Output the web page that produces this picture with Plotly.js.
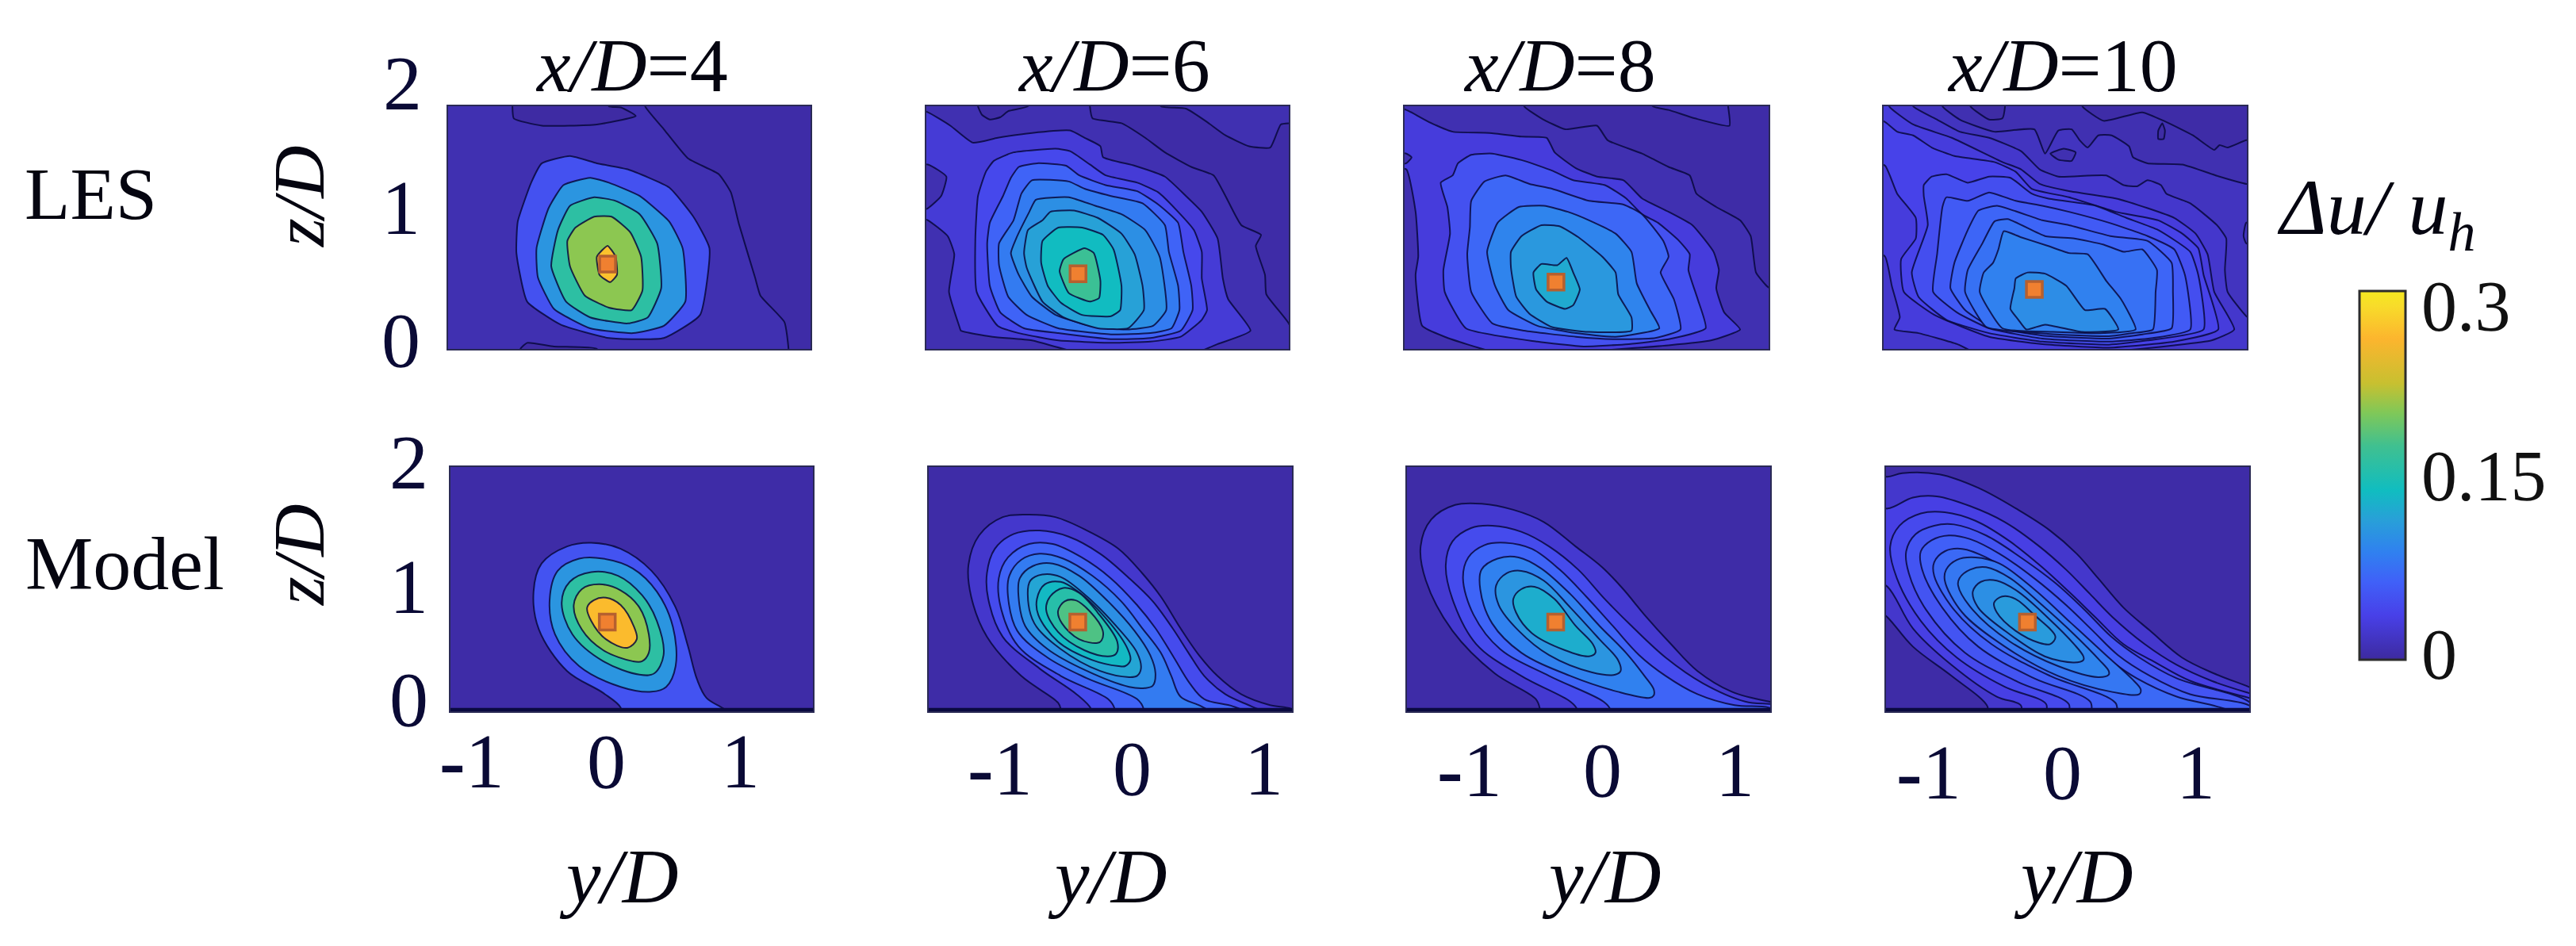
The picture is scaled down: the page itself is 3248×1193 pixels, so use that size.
<!DOCTYPE html>
<html><head><meta charset="utf-8">
<script src="https://cdn.plot.ly/plotly-3.0.1.min.js"></script>
<style>html,body{margin:0;padding:0;background:#fff}</style></head><body>
<div id="chart" style="width:3248px;height:1193px"></div>
<script>
// Wake deficit contours: each entry is [deficit band value, [y/D, z/D, y/D, z/D, ...]]
const les4 = [
 [0.009,[0.31,2.1,0.31,2.0,0.45,1.81,0.63,1.57,0.86,1.44,0.95,1.29,1.01,1.03,1.13,0.59,1.17,0.44,1.35,0.22,1.38,0,1.38,-0.1,-2,-0.1,-2,2.1]],
 [0.002,[-0.68,2.1,-0.68,2.0,-0.67,1.9,-0.46,1.84,-0.05,1.85,0.24,1.92,0.13,1.99,0.04,2.0,0.04,2.1]],
 [0.002,[-0.62,-0.1,-0.62,0,-0.57,0.05,-0.37,0.02,-0.05,0,-0.05,-0.1]],
 [0.05,[-0.25,1.59,-0.46,1.53,-0.54,1.37,-0.64,1.05,-0.65,0.79,-0.57,0.39,-0.32,0.2,0.04,0.09,0.45,0.09,0.72,0.28,0.79,0.83,0.67,1.09,0.49,1.33,0.18,1.48,-0.05,1.53]],
 [0.105,[-0.1,1.41,-0.3,1.35,-0.41,1.16,-0.5,0.83,-0.49,0.59,-0.37,0.33,-0.1,0.17,0.22,0.13,0.45,0.19,0.61,0.39,0.59,0.83,0.49,1.05,0.27,1.26,0.04,1.37]],
 [0.16,[-0.07,1.25,-0.25,1.18,-0.34,0.98,-0.39,0.68,-0.28,0.39,-0.1,0.26,0.18,0.21,0.33,0.26,0.43,0.5,0.4,0.87,0.27,1.11,0.09,1.22]],
 [0.205,[-0.07,1.09,0.06,1.09,0.2,0.96,0.28,0.76,0.29,0.48,0.21,0.32,0.04,0.34,-0.14,0.44,-0.25,0.68,-0.27,0.89,-0.21,1.0]],
 [0.27,[0.03,0.85,0.09,0.76,0.1,0.61,0.05,0.55,-0.03,0.61,-0.05,0.76]]
];
const les6 = [
 [0.009,[-0.3,2.1,-0.3,2.0,-0.28,1.9,-0.06,1.86,0.12,1.74,0.27,1.62,0.47,1.5,0.64,1.43,0.73,1.26,0.85,1.02,1.0,0.94,0.96,0.85,1.03,0.61,1.04,0.45,1.21,0.21,1.3,-0.1,-1.7,-0.1,-1.7,2.1]],
 [0.009,[0.24,2.1,0.24,2.0,0.43,1.98,0.59,1.87,0.73,1.76,0.91,1.67,1.07,1.66,1.15,1.85,1.22,1.86,1.3,1.86,1.3,2.1]],
 [0.003,[-1.15,2.1,-1.15,2.0,-1.12,1.93,-1.06,1.89,-0.98,1.91,-0.92,1.96,-0.77,2.0,-0.77,2.1]],
 [0.027,[-1.7,2.0,-1.53,1.95,-1.36,1.84,-1.19,1.7,-1.0,1.74,-0.74,1.78,-0.45,1.8,-0.34,1.74,-0.22,1.67,-0.2,1.58,0.04,1.51,0.27,1.42,0.43,1.26,0.55,1.13,0.67,0.91,0.71,0.58,0.75,0.41,0.92,0.15,0.67,0.04,0.53,-0.02,-0.42,-0.02,-0.74,0.07,-1.04,0.1,-1.28,0.15,-1.29,0.18,-1.37,0.47,-1.33,0.78,-1.38,0.93,-1.53,1.06,-1.7,1.12]],
 [0.009,[-1.7,1.5,-1.53,1.52,-1.39,1.42,-1.43,1.26,-1.53,1.16,-1.7,1.1]],
 [0.043,[-1.03,1.55,-0.88,1.62,-0.56,1.65,-0.45,1.63,-0.3,1.52,-0.18,1.43,0.06,1.37,0.22,1.29,0.37,1.13,0.49,0.98,0.55,0.8,0.55,0.58,0.59,0.32,0.55,0.24,0.39,0.1,0.16,0.06,-0.14,0.05,-0.54,0.07,-0.84,0.13,-1.0,0.19,-1.16,0.47,-1.17,0.91,-1.15,1.26,-1.09,1.46]],
 [0.065,[-0.84,1.5,-0.7,1.53,-0.48,1.51,-0.38,1.43,-0.18,1.35,0.06,1.3,0.22,1.19,0.37,1.04,0.41,0.8,0.47,0.52,0.48,0.32,0.39,0.15,0.16,0.09,-0.14,0.08,-0.54,0.13,-0.8,0.17,-0.98,0.3,-1.06,0.52,-1.08,0.87,-1.06,1.04,-0.96,1.26,-0.9,1.41]],
 [0.083,[-0.74,1.39,-0.46,1.38,-0.34,1.32,-0.14,1.26,0.1,1.2,0.27,1.02,0.3,0.8,0.37,0.52,0.38,0.32,0.32,0.17,0.16,0.13,-0.14,0.12,-0.54,0.17,-0.78,0.28,-0.92,0.43,-0.99,0.69,-0.99,0.87,-0.88,1.06,-0.82,1.28]],
 [0.1,[-0.71,1.23,-0.46,1.25,-0.26,1.18,-0.06,1.11,0.12,0.98,0.23,0.76,0.28,0.32,0.18,0.19,-0.02,0.16,-0.3,0.19,-0.56,0.28,-0.74,0.43,-0.84,0.61,-0.9,0.79,-0.86,0.91,-0.76,1.13]],
 [0.115,[-0.6,1.13,-0.42,1.14,-0.24,1.08,-0.06,0.95,0.04,0.78,0.1,0.52,0.11,0.32,-0.01,0.17,-0.24,0.17,-0.5,0.26,-0.66,0.39,-0.78,0.67,-0.8,0.79,-0.77,0.98,-0.66,1.06]],
 [0.137,[-0.54,1.0,-0.36,1.0,-0.2,0.94,-0.12,0.82,-0.06,0.52,-0.07,0.32,-0.14,0.27,-0.36,0.28,-0.52,0.38,-0.62,0.52,-0.67,0.71,-0.66,0.89]],
 [0.17,[-0.34,0.83,-0.27,0.79,-0.22,0.56,-0.23,0.42,-0.3,0.39,-0.46,0.46,-0.53,0.64,-0.5,0.74]]
];
const les8 = [
 [0.009,[-0.57,2.1,-0.57,2.0,-0.44,1.9,-0.26,1.81,-0.02,1.84,0.06,1.72,0.32,1.61,0.52,1.5,0.68,1.43,0.73,1.28,0.88,1.17,1.06,1.06,1.14,0.93,1.18,0.63,1.26,0.52,1.4,0.4,1.4,-0.1,-1.6,-0.1,-1.6,2.1]],
 [0.009,[0.4,2.1,0.4,2.0,0.52,1.97,0.72,1.9,0.98,1.84,0.97,2.0,0.97,2.1]],
 [0.03,[-1.6,2.0,-1.46,1.97,-1.29,1.87,-1.11,1.79,-0.83,1.78,-0.59,1.75,-0.4,1.74,-0.34,1.62,-0.18,1.49,-0.02,1.42,0.18,1.39,0.32,1.24,0.52,1.13,0.7,1.02,0.86,0.8,0.9,0.65,0.88,0.5,0.94,0.3,1.06,0.16,0.84,0.07,0.52,0.03,-0.12,-0.02,-0.81,-0.02,-1.17,0.1,-1.34,0.19,-1.39,0.61,-1.37,0.76,-1.39,1.13,-1.46,1.48,-1.6,1.5]],
 [0.009,[-1.6,1.61,-1.46,1.61,-1.42,1.58,-1.46,1.53,-1.6,1.53]],
 [0.05,[-1.2,1.37,-1.11,1.43,-1.07,1.53,-0.97,1.6,-0.81,1.61,-0.57,1.55,-0.36,1.47,-0.2,1.39,0.04,1.35,0.2,1.24,0.32,1.11,0.44,1.04,0.6,0.89,0.68,0.78,0.67,0.65,0.74,0.41,0.8,0.17,0.52,0.08,0.22,0.04,-0.12,0.02,-0.47,0.06,-1.01,0.17,-1.17,0.47,-1.18,0.65,-1.13,0.95,-1.15,1.17]],
 [0.068,[-0.97,1.22,-0.87,1.38,-0.71,1.43,-0.53,1.36,-0.36,1.32,-0.08,1.22,0.18,1.19,0.32,1.11,0.48,0.89,0.52,0.76,0.46,0.63,0.56,0.41,0.61,0.16,0.42,0.09,0.12,0.08,-0.18,0.1,-0.57,0.15,-0.81,0.21,-0.97,0.47,-1.0,0.78,-0.98,1.0]],
 [0.09,[-0.61,1.17,-0.42,1.18,-0.24,1.13,-0.08,1.06,0.12,0.95,0.24,0.8,0.28,0.54,0.38,0.32,0.45,0.17,0.12,0.1,-0.18,0.13,-0.47,0.19,-0.69,0.32,-0.79,0.52,-0.85,0.8,-0.77,1.04]],
 [0.107,[-0.44,1.02,-0.3,1.01,-0.16,0.92,0.02,0.76,0.12,0.63,0.14,0.45,0.24,0.26,0.24,0.15,-0.08,0.14,-0.36,0.18,-0.53,0.29,-0.63,0.43,-0.67,0.67,-0.67,0.8,-0.59,0.93]],
 [0.122,[-0.44,0.7,-0.32,0.69,-0.25,0.75,-0.2,0.63,-0.15,0.49,-0.2,0.36,-0.26,0.33,-0.4,0.39,-0.48,0.49,-0.5,0.63]]
];
const les10 = [
 [0.009,[0.17,2.1,0.17,2.0,0.33,1.88,0.62,1.95,0.8,1.87,1.0,1.76,1.16,1.64,1.2,1.68,1.26,1.66,1.4,1.72,1.5,1.72,1.5,-0.1,-1.5,-0.1,-1.5,2.1]],
 [0.003,[0.74,1.8,0.77,1.86,0.79,1.8,0.78,1.73,0.74,1.73]],
 [0.003,[-0.67,2.1,-0.67,2.0,-0.53,1.89,-0.43,1.9,-0.41,2.0,-0.41,2.1]],
 [0.016,[-0.88,2.1,-0.88,2.0,-0.75,1.89,-0.49,1.79,-0.19,1.81,-0.11,1.61,-0.01,1.8,0.09,1.81,0.15,1.72,0.21,1.66,0.29,1.76,0.39,1.76,0.52,1.67,0.55,1.58,0.66,1.53,0.92,1.52,1.2,1.42,1.4,1.36,1.5,1.36,1.5,-0.1,-1.5,-0.1,-1.5,2.1]],
 [0.009,[-0.07,1.61,0.03,1.65,0.12,1.62,0.09,1.55,-0.01,1.56]],
 [0.022,[-1.1,2.1,-1.1,2.0,-0.92,1.89,-0.75,1.79,-0.53,1.74,-0.29,1.63,-0.15,1.48,-0.01,1.42,0.35,1.43,0.48,1.35,0.58,1.34,0.66,1.39,0.76,1.35,0.8,1.28,0.98,1.2,1.18,1.02,1.25,0.91,1.24,0.65,1.26,0.47,1.4,0.27,1.5,0.2,1.5,-0.1,-1.5,-0.1,-1.5,2.1]],
 [0.016,[1.5,1.04,1.4,1.04,1.38,0.93,1.4,0.87,1.5,0.87]],
 [0.03,[-1.5,0.9,-1.31,0.76,-1.26,0.52,-1.2,0.26,-1.24,0.16,-1.06,0.13,-0.77,0.04,-0.65,-0.02,0.37,-0.02,0.86,0.03,1.14,0.07,1.31,0.16,1.16,0.47,1.11,0.78,1.02,0.95,0.86,1.08,0.66,1.16,0.42,1.24,0.07,1.3,-0.15,1.36,-0.29,1.48,-0.43,1.54,-0.81,1.74,-1.1,1.85,-1.28,2.0,-1.28,2.1,-1.5,2.1]],
 [0.038,[-1.5,1.95,-1.31,1.87,-1.22,1.79,-1.1,1.76,-0.96,1.66,-0.79,1.59,-0.49,1.54,-0.33,1.46,-0.21,1.32,0.07,1.25,0.42,1.13,0.74,1.06,0.92,0.95,1.04,0.83,1.08,0.61,1.19,0.16,0.86,0.06,0.37,0.01,-0.13,0.04,-0.53,0.1,-0.94,0.28,-1.17,0.47,-1.19,0.74,-1.08,0.91,-1.08,1.08,-1.22,1.28,-1.31,1.51,-1.5,1.6]],
 [0.048,[-1.02,1.35,-0.96,1.42,-0.85,1.44,-0.69,1.37,-0.53,1.42,-0.37,1.41,-0.21,1.28,-0.09,1.24,0.27,1.18,0.5,1.08,0.74,0.98,0.98,0.8,1.04,0.61,1.08,0.16,0.66,0.07,0.37,0.035,-0.13,0.06,-0.53,0.13,-0.85,0.24,-1.06,0.43,-1.11,0.63,-0.99,1.02,-1.02,1.26]],
 [0.058,[-0.85,1.25,-0.69,1.22,-0.53,1.29,-0.33,1.22,-0.13,1.18,0.07,1.13,0.37,1.04,0.66,0.93,0.86,0.82,0.94,0.61,0.98,0.16,0.7,0.09,0.37,0.06,-0.13,0.085,-0.53,0.17,-0.77,0.3,-0.95,0.47,-0.92,0.78,-0.88,1.17]],
 [0.067,[-0.61,1.14,-0.47,1.18,-0.13,1.06,0.07,1.02,0.38,0.93,0.66,0.89,0.84,0.71,0.85,0.47,0.84,0.17,0.62,0.12,0.37,0.085,-0.13,0.11,-0.53,0.19,-0.71,0.32,-0.82,0.5,-0.79,0.71,-0.69,0.98]],
 [0.076,[-0.49,1.05,-0.39,1.07,-0.11,0.93,0.11,0.91,0.33,0.86,0.48,0.8,0.62,0.82,0.73,0.65,0.72,0.47,0.7,0.16,0.55,0.13,0.37,0.105,-0.09,0.125,-0.55,0.18,-0.71,0.47,-0.69,0.65,-0.58,0.87]],
 [0.088,[-0.42,0.97,-0.29,0.92,-0.09,0.85,0.07,0.79,0.21,0.78,0.35,0.56,0.46,0.41,0.57,0.16,0.33,0.13,-0.05,0.14,-0.43,0.17,-0.6,0.47,-0.57,0.63,-0.5,0.71,-0.46,0.82]],
 [0.098,[-0.33,0.58,-0.24,0.63,-0.11,0.62,0.05,0.52,0.19,0.32,0.34,0.33,0.44,0.16,0.17,0.14,-0.11,0.2,-0.25,0.16,-0.31,0.24,-0.37,0.33,-0.34,0.5]]
];
const model4 = [
 [0.052,[0.11,-0.05,0.11,0.03,-0.02,0.15,-0.29,0.33,-0.5,0.67,-0.54,0.98,-0.48,1.21,-0.29,1.35,-0.11,1.38,0.11,1.33,0.34,1.15,0.52,0.85,0.61,0.54,0.68,0.26,0.75,0.11,0.88,0.02,0.95,-0.05]],
 [0.105,[0.34,0.16,0.11,0.2,-0.2,0.37,-0.38,0.63,-0.42,0.91,-0.36,1.15,-0.2,1.25,-0.02,1.25,0.2,1.17,0.38,0.98,0.5,0.69,0.52,0.37,0.45,0.2]],
 [0.16,[0.25,0.3,-0.02,0.41,-0.25,0.63,-0.33,0.89,-0.27,1.06,-0.11,1.14,0.09,1.11,0.27,0.95,0.38,0.74,0.43,0.46,0.36,0.31]],
 [0.205,[0.2,0.41,-0.02,0.5,-0.18,0.67,-0.24,0.87,-0.18,1.0,-0.05,1.04,0.11,0.99,0.25,0.85,0.32,0.63,0.32,0.48,0.27,0.41]],
 [0.265,[0.16,0.52,0,0.59,-0.11,0.74,-0.14,0.85,-0.09,0.91,0,0.93,0.11,0.87,0.21,0.69,0.23,0.59]]
];
const model6 = [
 [0.022,[-0.54,-0.05,-0.54,0.02,-0.56,0.07,-0.84,0.29,-1.1,0.61,-1.22,0.94,-1.24,1.2,-1.16,1.44,-0.98,1.59,-0.78,1.61,-0.58,1.59,-0.34,1.48,-0.1,1.33,0.08,1.13,0.22,0.94,0.37,0.68,0.51,0.46,0.65,0.29,0.83,0.14,1.05,0.05,1.21,0.02,1.3,-0.05]],
 [0.045,[-0.31,-0.05,-0.31,0.02,-0.42,0.14,-0.7,0.35,-0.98,0.61,-1.09,0.92,-1.1,1.13,-1.04,1.33,-0.9,1.45,-0.7,1.48,-0.48,1.43,-0.24,1.29,-0.02,1.09,0.16,0.9,0.31,0.68,0.43,0.48,0.55,0.29,0.71,0.14,0.91,0.04,1.1,-0.05]],
 [0.065,[-0.13,-0.05,-0.13,0.02,-0.18,0.1,-0.54,0.29,-0.86,0.53,-0.99,0.83,-1.01,1.09,-0.94,1.26,-0.78,1.37,-0.6,1.37,-0.38,1.26,-0.16,1.09,0.04,0.87,0.18,0.68,0.32,0.44,0.44,0.23,0.55,0.1,0.77,0.04,0.95,-0.05]],
 [0.083,[0.09,-0.05,0.09,0.02,0.04,0.1,-0.34,0.27,-0.64,0.44,-0.87,0.66,-0.94,0.94,-0.93,1.11,-0.84,1.24,-0.7,1.29,-0.52,1.25,-0.3,1.11,-0.08,0.9,0.08,0.68,0.22,0.48,0.3,0.29,0.37,0.12,0.53,0.04,0.65,-0.05]],
 [0.1,[0.1,0.19,-0.02,0.2,-0.34,0.33,-0.64,0.51,-0.81,0.7,-0.86,0.94,-0.85,1.09,-0.75,1.19,-0.6,1.21,-0.4,1.11,-0.18,0.9,0.02,0.66,0.14,0.46,0.18,0.31,0.16,0.21]],
 [0.118,[-0.02,0.28,-0.24,0.33,-0.54,0.51,-0.74,0.72,-0.79,0.96,-0.77,1.07,-0.68,1.12,-0.54,1.1,-0.34,0.94,-0.12,0.7,0.04,0.48,0.07,0.35,0.04,0.29]],
 [0.135,[-0.1,0.37,-0.3,0.42,-0.56,0.57,-0.71,0.79,-0.72,0.92,-0.66,1.04,-0.54,1.06,-0.42,0.99,-0.22,0.79,-0.04,0.53,-0.01,0.42,-0.05,0.37]],
 [0.155,[-0.18,0.45,-0.36,0.5,-0.56,0.65,-0.65,0.83,-0.62,0.94,-0.52,1.01,-0.4,0.97,-0.26,0.81,-0.11,0.57,-0.12,0.47]],
 [0.18,[-0.26,0.56,-0.4,0.59,-0.53,0.72,-0.56,0.82,-0.51,0.9,-0.43,0.91,-0.32,0.82,-0.22,0.66,-0.23,0.58]]
];
const model8 = [
 [0.024,[-0.47,-0.05,-0.47,0.02,-0.5,0.1,-0.81,0.31,-1.13,0.66,-1.33,1.07,-1.37,1.35,-1.29,1.57,-1.11,1.69,-0.91,1.7,-0.67,1.65,-0.44,1.55,-0.2,1.35,0,1.18,0.16,1.0,0.32,0.79,0.52,0.55,0.72,0.33,0.98,0.16,1.26,0.08,1.4,0.06,1.4,-0.05]],
 [0.045,[-0.19,-0.05,-0.19,0.02,-0.24,0.08,-0.61,0.29,-0.95,0.55,-1.13,0.92,-1.18,1.2,-1.13,1.39,-0.99,1.5,-0.83,1.52,-0.61,1.47,-0.4,1.35,-0.18,1.16,0.02,0.92,0.24,0.68,0.48,0.44,0.76,0.23,1.08,0.08,1.26,0.06,1.4,0.05,1.4,-0.05]],
 [0.066,[0.06,-0.05,0.06,0.02,0.01,0.08,-0.4,0.29,-0.77,0.51,-0.97,0.79,-1.05,1.09,-1.01,1.26,-0.89,1.36,-0.73,1.38,-0.53,1.33,-0.32,1.16,-0.12,0.94,0.08,0.7,0.28,0.46,0.48,0.29,0.72,0.14,1.0,0.05,1.26,0.03,1.4,-0.05]],
 [0.088,[0.36,0.11,0.12,0.16,-0.24,0.29,-0.61,0.48,-0.83,0.72,-0.92,1.0,-0.91,1.16,-0.79,1.25,-0.63,1.26,-0.46,1.17,-0.24,0.96,-0.02,0.7,0.18,0.48,0.32,0.29,0.39,0.18,0.39,0.13]],
 [0.105,[0.1,0.3,-0.08,0.32,-0.4,0.46,-0.63,0.66,-0.78,0.87,-0.8,1.03,-0.72,1.13,-0.61,1.15,-0.44,1.07,-0.24,0.85,-0.02,0.59,0.12,0.42,0.14,0.33]],
 [0.125,[-0.1,0.45,-0.28,0.5,-0.53,0.64,-0.65,0.81,-0.67,0.92,-0.61,1.0,-0.51,1.02,-0.36,0.92,-0.2,0.7,-0.07,0.55,-0.05,0.48]]
];
const model10 = [
 [0.022,[-0.56,-0.05,-0.56,0.04,-0.83,0.29,-1.12,0.53,-1.31,0.77,-1.45,0.9,-1.45,1.95,-1.31,1.92,-1.2,1.95,-0.92,1.94,-0.63,1.83,-0.33,1.65,-0.09,1.48,0.11,1.29,0.27,1.09,0.46,0.85,0.66,0.66,0.9,0.44,1.14,0.31,1.4,0.2,1.5,0.15,1.5,-0.05]],
 [0.034,[-0.29,-0.05,-0.31,0.05,-0.49,0.12,-0.83,0.38,-1.12,0.68,-1.31,1.02,-1.45,1.1,-1.45,1.7,-1.31,1.66,-1.12,1.75,-0.94,1.76,-0.69,1.68,-0.43,1.55,-0.17,1.35,0.03,1.16,0.21,0.96,0.38,0.77,0.62,0.55,0.86,0.38,1.12,0.25,1.4,0.15,1.5,0.12,1.5,-0.05]],
 [0.044,[-0.11,-0.05,-0.12,0.06,-0.43,0.2,-0.79,0.44,-1.06,0.74,-1.24,1.09,-1.29,1.35,-1.22,1.52,-1.06,1.62,-0.88,1.63,-0.65,1.56,-0.39,1.39,-0.15,1.18,0.05,0.98,0.25,0.77,0.46,0.55,0.7,0.4,0.96,0.25,1.4,0.11,1.5,0.08,1.5,-0.05]],
 [0.053,[0.06,-0.05,0.05,0.06,-0.33,0.24,-0.73,0.48,-1.02,0.83,-1.15,1.13,-1.17,1.31,-1.1,1.45,-0.96,1.52,-0.81,1.53,-0.57,1.44,-0.31,1.26,-0.05,1.05,0.17,0.83,0.37,0.61,0.58,0.44,0.86,0.27,1.4,0.08,1.5,-0.05]],
 [0.062,[0.24,-0.05,0.21,0.08,-0.21,0.27,-0.63,0.53,-0.9,0.85,-1.05,1.16,-1.06,1.31,-0.98,1.4,-0.85,1.44,-0.69,1.41,-0.47,1.29,-0.21,1.09,0.03,0.87,0.23,0.66,0.42,0.46,0.66,0.29,0.96,0.14,1.4,0.05,1.5,-0.05]],
 [0.07,[0.43,-0.05,0.4,0.07,-0.09,0.29,-0.53,0.55,-0.81,0.83,-0.96,1.11,-0.96,1.22,-0.88,1.31,-0.75,1.33,-0.57,1.26,-0.33,1.09,-0.09,0.85,0.13,0.61,0.33,0.44,0.56,0.27,0.86,0.12,1.16,0.04,1.4,-0.05]],
 [0.08,[0.59,0.18,0.58,0.14,0.37,0.16,-0.03,0.29,-0.43,0.53,-0.75,0.81,-0.88,1.07,-0.87,1.16,-0.79,1.24,-0.65,1.26,-0.47,1.21,-0.21,1.0,0.07,0.72,0.33,0.46,0.52,0.27]],
 [0.09,[0.35,0.3,0.27,0.28,-0.03,0.37,-0.39,0.57,-0.67,0.83,-0.78,1.03,-0.77,1.09,-0.69,1.16,-0.57,1.18,-0.39,1.09,-0.15,0.87,0.09,0.63,0.28,0.42,0.35,0.33]],
 [0.1,[0.16,0.42,0.09,0.4,-0.13,0.45,-0.43,0.66,-0.63,0.85,-0.67,0.98,-0.61,1.06,-0.49,1.07,-0.33,0.98,-0.11,0.77,0.09,0.55,0.16,0.45]],
 [0.11,[-0.09,0.55,-0.17,0.56,-0.35,0.66,-0.49,0.81,-0.51,0.89,-0.45,0.94,-0.35,0.92,-0.21,0.79,-0.05,0.61]]
];
const stationNames = ['x/D=4','x/D=6','x/D=8','x/D=10'];
const turbineY = [0.03,-0.39,-0.33,-0.19, 0.01,-0.41,-0.35,-0.26];
const turbineZ = [0.70, 0.62, 0.55, 0.49, 0.73, 0.73, 0.73, 0.73];
const xTickVals = [-1,0,1];
const xTickText = ['<b>-</b>1','0','1'];
const barTickText = ['0','0.15','0.3'];
const barMin = 0, barMax = 0.3;
const panelLevels = [les4,les6,les8,les10,model4,model6,model8,model10];
const parula = [[0,'#3d2a9f'],[0.12,'#4840e8'],[0.21,'#4060f8'],[0.29,'#3080f0'],[0.38,'#28a0d8'],[0.46,'#10bdc0'],[0.58,'#40c090'],[0.67,'#80c858'],[0.75,'#c8c030'],[0.87,'#fcb52e'],[0.96,'#f8dc2a'],[1,'#f5e820']];

// layout geometry (pixels in the 3248x1193 page)
const W=3248,H=1193;
const frames=[
 {l:565,r:1022,t:134,b:440,zero:761,s:169},{l:1168,r:1625,t:134,b:440,zero:1424,s:166},
 {l:1771,r:2230,t:134,b:440,zero:2017,s:167},{l:2375,r:2833,t:134,b:440,zero:2597,s:168},
 {l:568,r:1025,t:589,b:897,zero:764,s:169},{l:1171,r:1629,t:589,b:897,zero:1427,s:166},
 {l:1774,r:2232,t:589,b:897,zero:2020,s:167},{l:2378,r:2836,t:589,b:897,zero:2600,s:168}];
const tickRowY=[0,0,0,0,960,969,971,974];

function hex(c){return [1,3,5].map(i=>parseInt(c.substr(i,2),16));}
function levelColor(v){
  const f=Math.max(0,Math.min(1,(v-barMin)/(barMax-barMin)));
  for(let i=1;i<parula.length;i++){
    if(f<=parula[i][0]){
      const a=parula[i-1],b=parula[i],t=(f-a[0])/(b[0]-a[0]),A=hex(a[1]),B=hex(b[1]);
      return 'rgb('+A.map((q,k)=>Math.round(q+(B[k]-q)*t)).join(',')+')';
    }
  }
  return parula[parula.length-1][1];
}
const traces=[],layout={width:W,height:H,margin:{l:0,r:0,t:0,b:0},paper_bgcolor:'#fff',plot_bgcolor:'#fff',showlegend:false,annotations:[],shapes:[],
  font:{family:'"Liberation Serif",serif',color:'#0a0a35'}};
const frameLine='#2a2a55';
frames.forEach((f,i)=>{
  const n=i+1, sx=n===1?'':n, xa='xaxis'+sx, ya='yaxis'+sx, xr='x'+sx, yr='y'+sx;
  layout[xa]={domain:[f.l/W,f.r/W],range:[(f.l-f.zero)/f.s,(f.r-f.zero)/f.s],anchor:yr,showgrid:false,zeroline:false,showline:true,mirror:true,linecolor:frameLine,linewidth:1.5,ticks:'',showticklabels:false};
  layout[ya]={domain:[1-f.b/H,1-f.t/H],range:[0,2],anchor:xr,showgrid:false,zeroline:false,showline:true,mirror:true,linecolor:frameLine,linewidth:1.5,ticks:'',showticklabels:false};
  traces.push({type:'scatter',mode:'none',x:[-3,3,3,-3,-3],y:[-1,-1,3,3,-1],fill:'toself',fillcolor:levelColor(0.004),xaxis:xr,yaxis:yr,hoverinfo:'skip'});
  const smooth=i>=4?1:0.45;
  panelLevels[i].forEach(c=>{
    const xs=[],ys=[];
    for(let k=0;k<c[1].length;k+=2){xs.push(c[1][k]);ys.push(c[1][k+1]);}
    xs.push(xs[0]);ys.push(ys[0]);
    traces.push({type:'scatter',mode:'lines',x:xs,y:ys,fill:'toself',fillcolor:levelColor(c[0]),
      line:{color:'rgba(8,8,60,0.85)',width:2,shape:'spline',smoothing:smooth},xaxis:xr,yaxis:yr,hoverinfo:'skip',name:'Δu/u_h='+c[0]});
  });
  traces.push({type:'scatter',mode:'markers',x:[turbineY[i]],y:[turbineZ[i]],marker:{symbol:'square',size:20,color:'#f08030',line:{color:'#b5602f',width:3.5}},xaxis:xr,yaxis:yr,hoverinfo:'skip'});
  if(i>=4){
    layout.shapes.push({type:'line',xref:xr,yref:yr,x0:(f.l-f.zero)/f.s,x1:(f.r-f.zero)/f.s,y0:0.012,y1:0.012,line:{color:'#0a0a40',width:5}});
    xTickVals.forEach((v,k)=>layout.annotations.push({xref:xr,yref:'paper',x:v,y:1-tickRowY[i]/H,text:xTickText[k],showarrow:false,xanchor:'center',yanchor:'middle',font:{size:98,family:'"Liberation Serif",serif',color:'#0a0a35'}}));
  }
});
// colour bar
traces.push({type:'scatter',mode:'markers',x:[0,0],y:[1,1],xaxis:'x',yaxis:'y',hoverinfo:'skip',
  marker:{size:1,opacity:0,color:[barMin,barMax],cmin:barMin,cmax:barMax,colorscale:parula,showscale:true,
    colorbar:{x:2975/W,xanchor:'left',xpad:0,ypad:0,y:1-599.5/H,yanchor:'middle',len:465,lenmode:'pixels',thickness:58,thicknessmode:'pixels',
      outlinecolor:'#2c2c2c',outlinewidth:3,borderwidth:0,tickmode:'array',tickvals:[0.005,0.15,0.288],ticktext:barTickText,ticks:'',
      tickfont:{size:90,color:'#111'}}}});
function note(px,py,text,size,extra){
  layout.annotations.push(Object.assign({xref:'paper',yref:'paper',x:px/W,y:1-py/H,text:text,showarrow:false,xanchor:'center',yanchor:'middle',font:{size:size,family:'"Liberation Serif",serif',color:'#050510'}},extra||{}));
}
const titleX=[796,1404,1966,2600];
stationNames.forEach((s,i)=>{const p=s.split('=');note(titleX[i],83,'<i>'+p[0]+'</i>='+p[1],96);});
[[507,105,'2'],[505,262,'1'],[505,429,'0'],[515,583,'2'],[515,740,'1'],[515,882,'0']].forEach(a=>note(a[0],a[1],a[2],98,{font:{size:98,family:'"Liberation Serif",serif',color:'#0a0a35'}}));
note(377,248,'<i>z/D</i>',92,{textangle:-90});
note(377,700,'<i>z/D</i>',92,{textangle:-90});
note(114,244,'LES',94);
note(157,710,'Model',96);
[780,1396,2019,2614].forEach(x=>note(x,1105,'<i>y/D</i>',98));
note(2996,268,'<i>Δu/ u<sub>h</sub></i>',100);
Plotly.newPlot('chart',traces,layout,{displayModeBar:false,responsive:false});
</script></body></html>
